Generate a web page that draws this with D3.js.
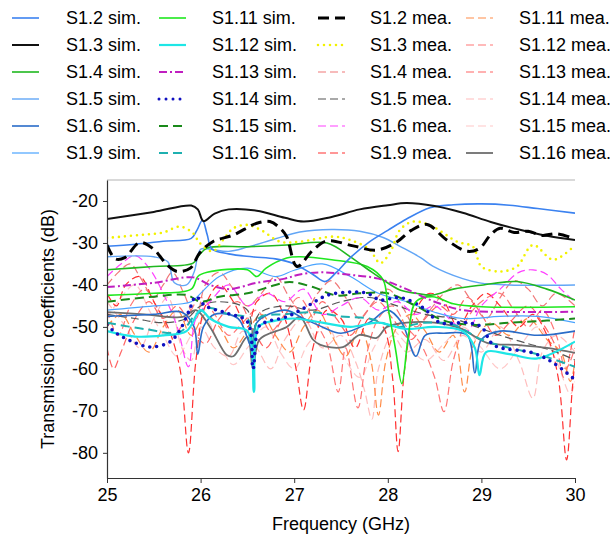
<!DOCTYPE html>
<html><head><meta charset="utf-8">
<script src="https://cdn.jsdelivr.net/npm/d3@7"></script>
<style>body{margin:0;background:#fff;} svg{display:block;font-family:"Liberation Sans",Arial,sans-serif;}</style>
</head><body>
<svg id="c" width="616" height="541"></svg>
<script>
// ---------- data (GHz, dB) ----------
const xTicks = [25, 26, 27, 28, 29, 30];
const yTicks = [-80, -70, -60, -50, -40, -30, -20];
const seriesNames = ["S1.2 sim.","S1.3 sim.","S1.4 sim.","S1.5 sim.","S1.6 sim.","S1.9 sim.",
  "S1.11 sim.","S1.12 sim.","S1.13 sim.","S1.14 sim.","S1.15 sim.","S1.16 sim.",
  "S1.2 mea.","S1.3 mea.","S1.4 mea.","S1.5 mea.","S1.6 mea.","S1.9 mea.",
  "S1.11 mea.","S1.12 mea.","S1.13 mea.","S1.14 mea.","S1.15 mea.","S1.16 mea."];

const s12sim = [[25,-30.8],[25.3,-30.3],[25.6,-29.6],[25.9,-28.9],[25.96,-27],[26.02,-24.6],[26.07,-28],[26.12,-31.4],[26.3,-32.6],[26.55,-33.3],[26.8,-33.8],[27.0,-35],[27.2,-37.5],[27.33,-39.2],[27.45,-37],[27.6,-33.5],[27.8,-29.8],[28.0,-27],[28.2,-24.3],[28.45,-21.6],[28.7,-20.9],[29.0,-20.7],[29.3,-21],[29.6,-21.8],[30,-22.9]];
const s13sim = [[25,-24.3],[25.5,-22.6],[25.9,-21.1],[25.97,-22],[26.03,-24.8],[26.15,-23],[26.3,-22],[26.6,-22.3],[26.9,-24],[27.1,-24.9],[27.4,-23.8],[27.7,-22],[28.0,-21],[28.2,-20.5],[28.5,-21.2],[28.8,-22.8],[29.1,-25],[29.4,-26.8],[29.7,-28.3],[30,-29.3]];
const s14sim = [[25,-36.4],[25.5,-35.6],[25.92,-34.8],[25.98,-33],[26.07,-31.2],[26.5,-30.9],[26.92,-30.5],[27.35,-30],[27.6,-33.3],[27.8,-36.5],[27.95,-38.8],[28.13,-41.2],[28.3,-42],[28.48,-42.4],[28.7,-41],[29.02,-40],[29.38,-39.2],[29.7,-41],[30,-43.6]];
const s15sim = [[25,-33.3],[25.5,-33.3],[25.65,-34.5],[25.72,-39.5],[25.85,-40],[25.93,-37],[26.0,-31.5],[26.1,-31.5],[26.3,-32],[26.5,-31],[26.8,-29],[27.06,-27.4],[27.4,-26.8],[27.7,-27.2],[27.95,-28.7],[28.13,-30.8],[28.35,-33.5],[28.48,-35.5],[28.8,-38.5],[28.98,-39.5],[29.3,-40],[30,-40]];
const s16sim = [[25,-47.5],[25.5,-47],[25.8,-46.5],[25.93,-50],[25.97,-56.5],[26.03,-50],[26.15,-47],[26.4,-48],[26.55,-55],[26.6,-49],[26.9,-46],[27.1,-48],[27.3,-50],[27.5,-51.5],[27.8,-49],[28.0,-46],[28.15,-49],[28.3,-57],[28.4,-52],[28.6,-51.5],[28.85,-52],[28.93,-61],[29.0,-53],[29.2,-51],[29.6,-52],[30,-51]];
const s19sim = [[25,-46],[25.5,-45],[25.9,-44],[26.0,-42],[26.2,-38],[26.5,-36],[26.8,-38],[27.0,-36.5],[27.3,-35],[27.6,-38],[27.9,-42],[28.2,-44],[28.5,-46.5],[28.8,-48],[29.2,-47.5],[29.6,-47.5],[30,-49]];
const s111sim = [[25,-42.5],[25.5,-42],[25.9,-41],[25.97,-38],[26.07,-37],[26.5,-36.4],[26.6,-38],[26.7,-36],[26.92,-33.6],[27.06,-33.3],[27.4,-34],[27.78,-35.6],[27.95,-38.8],[28.0,-45],[28.08,-55],[28.15,-63.5],[28.22,-52],[28.3,-44],[28.48,-42.8],[28.7,-44.5],[29.0,-45.2],[30,-45.2]];
const s112sim = [[25,-51],[25.3,-52.3],[25.6,-52],[25.85,-51],[26.0,-46],[26.1,-48],[26.3,-50],[26.5,-51],[26.57,-65.5],[26.62,-50],[26.8,-48.5],[27.0,-48],[27.3,-49],[27.6,-50],[27.9,-49],[28.2,-50.5],[28.5,-50],[28.8,-51],[28.93,-55],[28.98,-61.5],[29.05,-56],[29.3,-56.5],[29.6,-57.5],[30,-53.5]];
const s113sim = [[25,-40.5],[25.5,-39.5],[25.92,-38.2],[26.1,-40],[26.3,-41],[26.6,-39.5],[26.9,-38.5],[27.06,-37.5],[27.3,-37],[27.6,-37.6],[27.9,-38.5],[28.2,-41],[28.5,-44],[28.8,-46],[29.2,-46.4],[30,-46.4]];
const s114sim = [[25,-49.5],[25.1,-51.5],[25.28,-53.6],[25.46,-54.8],[25.67,-53.6],[25.78,-50.7],[25.88,-46],[25.95,-42.8],[26.05,-45],[26.28,-46.7],[26.5,-48.8],[26.56,-60],[26.62,-50],[26.7,-48.8],[26.92,-47.6],[27.13,-45.2],[27.35,-42.5],[27.6,-41.7],[27.78,-42],[27.92,-43.6],[28.13,-43],[28.38,-45.5],[28.56,-49],[28.85,-49],[29.0,-50],[29.13,-54.3],[29.55,-56.2],[29.77,-58.6],[30,-62.6]];
const s115sim = [[25,-44],[25.5,-42.8],[25.85,-42.4],[26.0,-44],[26.2,-42.8],[26.5,-42],[26.8,-40],[26.95,-39.3],[27.2,-40.5],[27.45,-42.5],[27.7,-42],[28.0,-42],[28.3,-45],[28.6,-48.5],[28.9,-49.5],[29.3,-49],[29.7,-48.5],[30,-48]];
const s116sim = [[25,-49],[25.4,-50.5],[25.78,-51.2],[25.95,-47],[26.1,-45.5],[26.3,-47],[26.5,-48],[26.56,-58],[26.62,-48],[26.9,-47],[27.2,-46.5],[27.5,-47.5],[27.8,-48],[28.1,-50],[28.4,-49],[28.7,-49.5],[29.0,-53],[29.3,-55],[29.6,-56.5],[30,-59.5]];
const s12mea = [[25,-30.5],[25.09,-33.8],[25.19,-33.5],[25.35,-29.9],[25.5,-31.5],[25.64,-35.2],[25.75,-36.8],[25.89,-36],[25.99,-32.4],[26.13,-29.7],[26.35,-28.1],[26.6,-25.3],[26.74,-24.9],[26.85,-26.5],[26.92,-28.5],[27.03,-35.6],[27.2,-31.7],[27.35,-29.5],[27.63,-30.7],[27.88,-31.7],[28.1,-29.7],[28.25,-27],[28.42,-25.6],[28.63,-29.3],[28.85,-32],[28.98,-31.3],[29.1,-28],[29.2,-26.5],[29.35,-27.5],[29.5,-27.2],[29.65,-28.2],[29.8,-27.8],[30,-29]];
const s13mea = [[25,-28.8],[25.35,-28.1],[25.6,-27.5],[25.78,-26.1],[25.92,-27.7],[25.99,-30],[26.13,-32],[26.25,-29],[26.35,-26.5],[26.5,-25.7],[26.65,-27],[26.85,-29.7],[27.06,-29.7],[27.42,-28.5],[27.6,-29.3],[27.8,-31.5],[27.92,-34.8],[28.03,-32],[28.13,-26.9],[28.27,-24.9],[28.48,-26.1],[28.74,-29.7],[28.91,-30.9],[29.0,-35.6],[29.2,-36.8],[29.38,-35.6],[29.55,-30.5],[29.77,-34],[30,-30.5]];
const s14mea = [[25,-40],[25.12,-37],[25.25,-35],[25.35,-38],[25.5,-43],[25.6,-40],[25.7,-37],[25.82,-42],[25.95,-48],[26.05,-40],[26.2,-37],[26.35,-41],[26.5,-45],[26.65,-42],[26.8,-38],[26.95,-43],[27.1,-47],[27.25,-42],[27.4,-39],[27.55,-43],[27.7,-48],[27.85,-44],[28.0,-41],[28.15,-45],[28.3,-50],[28.45,-46],[28.6,-42],[28.75,-40],[28.9,-44],[29.05,-48],[29.2,-43],[29.35,-39],[29.5,-41],[29.65,-45],[29.8,-42],[30,-45]];
const s15mea = [[25,-47],[25.3,-48],[25.6,-49],[25.85,-48],[26.0,-45],[26.2,-44],[26.5,-46],[26.56,-58],[26.62,-47],[26.9,-45],[27.2,-46],[27.5,-44],[27.8,-43],[28.1,-45],[28.4,-47],[28.7,-48],[28.95,-50],[29.2,-52],[29.5,-54],[29.8,-56],[30,-57.9]];
const s16mea = [[25,-38],[25.15,-35],[25.3,-33],[25.45,-36],[25.6,-42],[25.75,-50],[25.87,-59.5],[25.95,-48],[26.1,-44],[26.3,-40],[26.5,-45],[26.7,-42],[26.9,-44],[27.1,-41],[27.3,-47],[27.5,-45],[27.7,-43],[27.9,-46],[28.1,-44],[28.3,-47],[28.5,-45],[28.7,-49],[28.85,-51],[29.0,-45],[29.2,-41],[29.4,-37],[29.55,-36.4],[29.7,-37.5],[29.85,-41],[30,-44]];
const s19mea = [[25,-42],[25.1,-45],[25.2,-40],[25.35,-38],[25.5,-44],[25.65,-50],[25.78,-60],[25.87,-80],[25.95,-58],[26.05,-45],[26.2,-40],[26.35,-44],[26.5,-50],[26.6,-44],[26.75,-42],[26.9,-48],[27.02,-60],[27.1,-69.8],[27.2,-55],[27.35,-46],[27.5,-48],[27.65,-55],[27.8,-48],[27.95,-50],[28.05,-62],[28.11,-79.7],[28.18,-60],[28.3,-46],[28.45,-42],[28.6,-44],[28.75,-50],[28.9,-45],[29.05,-42],[29.2,-45],[29.4,-50],[29.55,-47],[29.7,-52],[29.82,-62],[29.91,-81.7],[29.97,-65],[30,-58]];
const s111mea = [[25,-50],[25.15,-47],[25.3,-52],[25.45,-56],[25.6,-50],[25.75,-46],[25.9,-52],[26.05,-47],[26.2,-50],[26.35,-55],[26.5,-51],[26.65,-47],[26.8,-52],[26.95,-56],[27.1,-50],[27.25,-46],[27.4,-52],[27.55,-57],[27.7,-50],[27.82,-58],[27.9,-71],[27.98,-58],[28.1,-50],[28.25,-47],[28.4,-51],[28.55,-56],[28.7,-52],[28.82,-65.5],[28.92,-54],[29.1,-49],[29.3,-52],[29.5,-48],[29.7,-53],[29.85,-56],[29.95,-63],[30,-58]];
const s112mea = [[25,-46],[25.12,-52],[25.25,-45],[25.4,-41],[25.55,-46],[25.7,-52],[25.85,-48],[26.0,-43],[26.15,-47],[26.3,-52],[26.45,-49],[26.6,-46],[26.75,-51],[26.9,-47],[27.05,-43],[27.2,-48],[27.35,-54],[27.47,-65.5],[27.55,-55],[27.68,-69.3],[27.78,-56],[27.9,-48],[28.05,-45],[28.2,-50],[28.35,-54],[28.5,-62],[28.6,-70.2],[28.7,-58],[28.85,-48],[29.0,-44],[29.2,-42],[29.35,-46],[29.5,-50],[29.65,-46],[29.8,-52],[29.9,-60],[30,-55]];
const s113mea = [[25,-55],[25.07,-60],[25.15,-56],[25.3,-48],[25.45,-44],[25.6,-48],[25.75,-45],[25.9,-50],[26.05,-54],[26.2,-48],[26.4,-44],[26.55,-50],[26.7,-55],[26.85,-49],[27.0,-45],[27.15,-49],[27.3,-44],[27.45,-48],[27.6,-52],[27.75,-47],[27.9,-44],[28.05,-48],[28.25,-53],[28.4,-48],[28.55,-45],[28.7,-47],[28.85,-43],[29.0,-47],[29.15,-52],[29.3,-49],[29.5,-45],[29.65,-49],[29.8,-55],[29.88,-62],[29.95,-56],[30,-50]];
const s114mea = [[25,-44],[25.2,-50],[25.35,-55],[25.5,-48],[25.65,-43],[25.8,-55],[25.9,-58],[26.0,-50],[26.15,-55],[26.3,-57],[26.45,-51],[26.6,-55],[26.75,-60],[26.9,-53],[27.1,-48],[27.3,-55],[27.5,-52],[27.65,-58],[27.75,-65],[27.83,-72],[27.9,-60],[28.05,-52],[28.2,-56],[28.4,-53],[28.6,-58],[28.8,-52],[29.0,-56],[29.2,-50],[29.4,-58],[29.55,-67],[29.65,-56],[29.8,-52],[30,-56]];
const s115mea = [[25,-48],[25.15,-43],[25.3,-40],[25.45,-46],[25.6,-52],[25.75,-57],[25.9,-52],[26.05,-48],[26.2,-54],[26.35,-59],[26.5,-55],[26.7,-50],[26.85,-56],[27.0,-60],[27.15,-54],[27.35,-50],[27.5,-56],[27.7,-62],[27.85,-55],[28.0,-50],[28.2,-54],[28.4,-58],[28.6,-54],[28.8,-50],[29.0,-55],[29.2,-60],[29.4,-55],[29.6,-50],[29.8,-58],[29.95,-66],[30,-63]];
const s116mea = [[25,-46.5],[25.4,-47],[25.81,-47.6],[25.95,-46],[26.1,-50],[26.28,-56.7],[26.35,-57],[26.5,-52.4],[26.56,-60],[26.63,-53],[26.92,-50],[27.06,-47.6],[27.2,-53],[27.28,-54.3],[27.52,-54.8],[27.7,-51.9],[27.88,-52.6],[27.99,-50],[28.2,-49],[28.5,-49],[28.77,-50.3],[29.06,-53.8],[29.38,-54.3],[29.7,-55],[30,-56.2]];

const seriesValues = [s12sim,s13sim,s14sim,s15sim,s16sim,s19sim,s111sim,s112sim,s113sim,s114sim,s115sim,s116sim,
  s12mea,s13mea,s14mea,s15mea,s16mea,s19mea,s111mea,s112mea,s113mea,s114mea,s115mea,s116mea];

// ---------- styles ----------
const styles = {
  "S1.2 sim.":  {c:"#3b82f0", w:1.6},
  "S1.3 sim.":  {c:"#111111", w:2},
  "S1.4 sim.":  {c:"#20b820", w:1.6},
  "S1.5 sim.":  {c:"#62a6f6", w:1.4},
  "S1.6 sim.":  {c:"#2a6cc8", w:1.6},
  "S1.9 sim.":  {c:"#4aa4ff", w:1.2},
  "S1.11 sim.": {c:"#1ee81e", w:1.6},
  "S1.12 sim.": {c:"#1ee6e6", w:2.2},
  "S1.13 sim.": {c:"#c01ec0", w:2, d:"8,3,2,3"},
  "S1.14 sim.": {c:"#1010c0", w:3.6, d:"0,7", cap:"round"},
  "S1.15 sim.": {c:"#1a8a1a", w:2, d:"9,5"},
  "S1.16 sim.": {c:"#1eb0b0", w:2, d:"9,5"},
  "S1.2 mea.":  {c:"#000000", w:3, d:"11,6"},
  "S1.3 mea.":  {c:"#f2f200", w:2.6, d:"0,6", cap:"round"},
  "S1.4 mea.":  {c:"#f07878", w:1.2, d:"8,4"},
  "S1.5 mea.":  {c:"#555555", w:1.2, d:"8,4"},
  "S1.6 mea.":  {c:"#ff40ff", w:1.2, d:"8,4"},
  "S1.9 mea.":  {c:"#ff3030", w:1.2, d:"8,4"},
  "S1.11 mea.": {c:"#ff8c48", w:1.2, d:"8,4"},
  "S1.12 mea.": {c:"#ff7676", w:1.2, d:"8,4"},
  "S1.13 mea.": {c:"#ff6464", w:1.2, d:"8,4"},
  "S1.14 mea.": {c:"#ffbcbc", w:1.2, d:"8,4"},
  "S1.15 mea.": {c:"#ffc8c8", w:1.2, d:"8,4"},
  "S1.16 mea.": {c:"#6e6e6e", w:1.8}
};

const svg = d3.select("#c");
const L = 107, R = 575, T = 180, B = 478;
const x = d3.scaleLinear().domain([25, 30]).range([L, R]);
const y = d3.scaleLinear().domain([-86, -15]).range([B, T]);

// top frame line
svg.append("line").attr("x1", L).attr("x2", R).attr("y1", T).attr("y2", T)
  .attr("stroke", "#d9d9d9").attr("stroke-width", 2);

svg.append("clipPath").attr("id", "clip").append("rect")
  .attr("x", L).attr("y", T).attr("width", R - L).attr("height", B - T);

const line = d3.line().x(d => x(d[0])).y(d => y(d[1])).curve(d3.curveCatmullRom.alpha(0.5));
const g = svg.append("g").attr("clip-path", "url(#clip)");

const order = ["S1.15 mea.","S1.14 mea.","S1.13 mea.","S1.12 mea.","S1.11 mea.","S1.4 mea.","S1.9 mea.","S1.5 mea.","S1.6 mea.","S1.16 mea.",
  "S1.9 sim.","S1.6 sim.","S1.16 sim.","S1.12 sim.","S1.15 sim.","S1.14 sim.","S1.5 sim.","S1.11 sim.","S1.4 sim.","S1.13 sim.","S1.2 sim.",
  "S1.3 mea.","S1.3 sim.","S1.2 mea."];
order.forEach(n => {
  const i = seriesNames.indexOf(n), s = styles[n];
  g.append("path").datum(seriesValues[i]).attr("d", line)
    .attr("fill", "none").attr("stroke", s.c).attr("stroke-width", s.w)
    .attr("stroke-dasharray", s.d || null).attr("stroke-linecap", s.cap || "butt")
    .attr("stroke-linejoin", "round");
});

// axes
const fs = 18;
const xa = svg.append("g").attr("transform", `translate(0,${B})`)
  .call(d3.axisBottom(x).tickValues(xTicks).tickSize(5).tickSizeOuter(0).tickFormat(d3.format("d")));
const ya = svg.append("g").attr("transform", `translate(${L},0)`)
  .call(d3.axisLeft(y).tickValues(yTicks).tickSize(4).tickSizeOuter(0).tickFormat(d => d));
[xa, ya].forEach(a => {
  a.select(".domain").attr("stroke", "#333").attr("stroke-width", 1.2);
  a.selectAll(".tick line").attr("stroke", "#333");
  a.selectAll("text").attr("font-size", fs).attr("font-family", "Liberation Sans, Arial, sans-serif").attr("fill", "#000");
});
xa.selectAll("text").attr("dy", "0.71em").attr("y", 10);
ya.selectAll("text").attr("x", -9);
// extend x-axis domain line through plot bottom
svg.append("text").attr("x", (L + R) / 2).attr("y", 530).attr("text-anchor", "middle")
  .attr("font-size", fs).text("Frequency (GHz)");
svg.append("text").attr("transform", `translate(54,${(T + B) / 2}) rotate(-90)`).attr("text-anchor", "middle")
  .attr("font-size", fs).text("Transmission coefficients (dB)");

// legend
const colX = [12, 159, 318, 466], textX = [66, 212, 370, 519];
const rowY = [18, 45, 72, 99, 126, 153];
const lg = svg.append("g");
seriesNames.forEach((n, i) => {
  const col = Math.floor(i / 6), row = i % 6, s = styles[n];
  const yy = rowY[row];
  lg.append("line").attr("x1", colX[col]).attr("x2", colX[col] + 27).attr("y1", yy).attr("y2", yy)
    .attr("stroke", s.c).attr("stroke-width", Math.min(s.w, 3))
    .attr("stroke-dasharray", s.d || null).attr("stroke-linecap", s.cap || "butt");
  lg.append("text").attr("x", textX[col]).attr("y", yy).attr("dy", "0.35em")
    .attr("font-size", fs).text(n);
});
</script>
</body></html>
